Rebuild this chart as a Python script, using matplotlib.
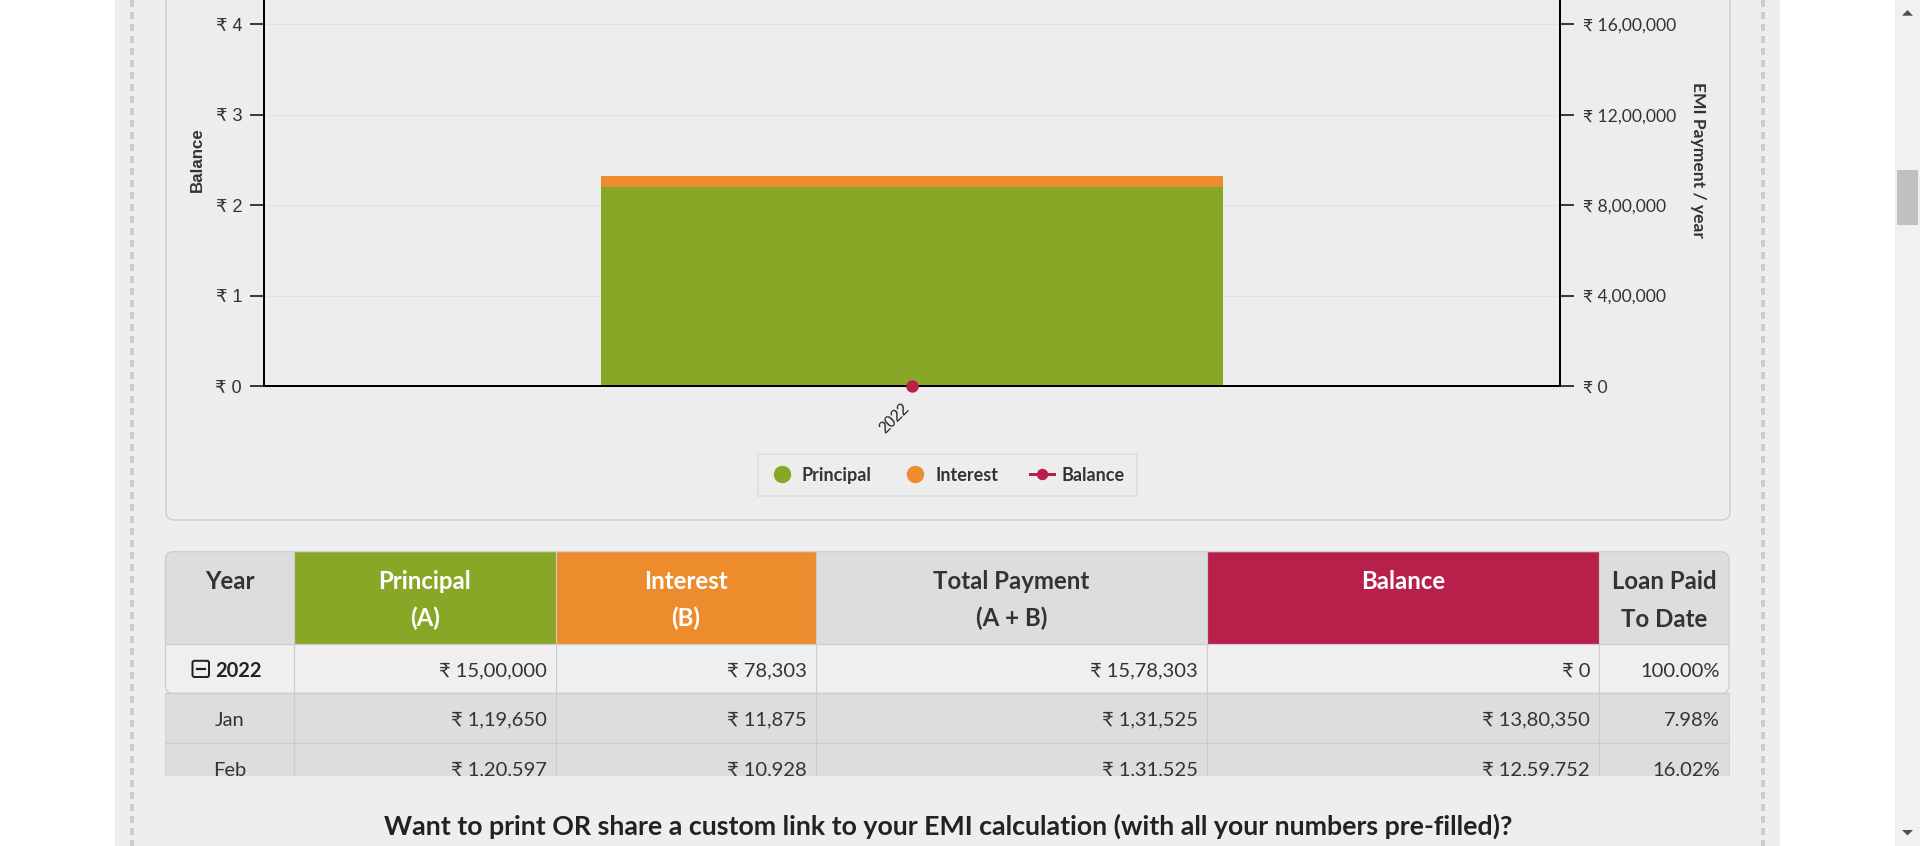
import matplotlib
matplotlib.use('Agg')
import matplotlib.pyplot as plt
from matplotlib.patches import Rectangle, FancyBboxPatch, Polygon
from matplotlib.lines import Line2D
from matplotlib.ticker import FuncFormatter

# chart data (bar heights)
years = ['2022']
principal_bar = [881000]
interest_bar = [47000]
balance_line = [0]
left_ticks = [0, 1, 2, 3, 4]
right_ticks = [0, 400000, 800000, 1200000, 1600000]

# amortisation table
row_labels = ['2022', 'Jan', 'Feb']
principal_col = [1500000, 119650, 120597]
interest_col = [78303, 11875, 10928]
total_col = [1578303, 131525, 131525]
balance_col = [0, 1380350, 1259752]
paid_col = [100.00, 7.98, 16.02]
headers = [['Year'], ['Principal', '(A)'], ['Interest', '(B)'],
           ['Total Payment', '(A + B)'], ['Balance'], ['Loan Paid', 'To Date']]

GREEN = '#89a727'
ORANGE = '#ed8c2d'
CRIMSON = '#b81f4a'
PAGE = '#eeeeee'
LATO = ['Lato', 'DejaVu Sans']
ARIAL = ['Liberation Sans', 'DejaVu Sans']

plt.rcParams['font.family'] = LATO
W, H = 1920, 846


def px(v):
    # pixels -> points at dpi 100
    return v * 0.72


def inr(v):
    s = str(int(round(v)))
    if len(s) > 3:
        head, tail = s[:-3], s[-3:]
        groups = []
        while len(head) > 2:
            groups.insert(0, head[-2:])
            head = head[:-2]
        if head:
            groups.insert(0, head)
        s = ','.join(groups + [tail])
    return '₹ ' + s


fig = plt.figure(figsize=(W / 100, H / 100), dpi=100, facecolor='white')

# page background
bg = fig.add_axes([0, 0, 1, 1])
bg.set_xlim(0, W)
bg.set_ylim(H, 0)
bg.axis('off')
bg.add_patch(Rectangle((115, 0), 1665, H, fc=PAGE, ec='none'))
for x in (132, 1763):
    bg.plot([x, x], [0, H], color='#cccccc', lw=px(4), dashes=(7 / 4, 5 / 4),
            solid_capstyle='butt', dash_capstyle='butt')
bg.add_patch(FancyBboxPatch((166, -60), 1564, 580,
                            boxstyle='round,pad=0,rounding_size=8',
                            fc='#ededed', ec='#cccccc', lw=px(1.3)))
# scrollbar
bg.add_patch(Rectangle((1895, 0), 25, H, fc='#f1f1f1', ec='none'))
bg.add_patch(Rectangle((1897, 170), 21, 55, fc='#c1c1c1', ec='none'))
bg.add_patch(Polygon([(1902, 15.7), (1913, 15.7), (1907.5, 10)], fc='#505050', ec='none'))
bg.add_patch(Polygon([(1902, 830), (1913, 830), (1907.5, 835.5)], fc='#505050', ec='none'))

bg.text(948, 835, 'Want to print OR share a custom link to your EMI calculation '
        '(with all your numbers pre-filled)?', ha='center', va='baseline',
        fontsize=19.3, fontweight='bold', color='#222222', family=LATO)

# chart
y0, top = 386, -70
unit = 90.4
ax = fig.add_axes([264 / W, (H - y0) / H, 1296 / W, (y0 - top) / H])
ax2 = ax.twinx()
x = list(range(len(years)))
ax2.bar(x, principal_bar, width=0.48, color=GREEN, zorder=2)
ax2.bar(x, interest_bar, width=0.48, bottom=principal_bar, color=ORANGE, zorder=2)
ax.plot(x, balance_line, color=CRIMSON, marker='o', ms=px(11), lw=px(2), clip_on=False, zorder=5)

ax.set_zorder(ax2.get_zorder() + 1)
ax.patch.set_visible(False)
ax2.patch.set_visible(False)
ax.set_xlim(-0.5, 0.5)
ymax = (y0 - top) / unit
ax.set_ylim(0, ymax)
ax2.set_ylim(0, ymax * 400000)

ax.set_xticks(x, years)
ax.set_yticks(left_ticks)
ax.yaxis.set_major_formatter(FuncFormatter(lambda v, p: '₹ %d' % v))
ax2.set_yticks(right_ticks)
ax2.yaxis.set_major_formatter(FuncFormatter(lambda v, p: inr(v)))

ax2.yaxis.grid(True, color='#e2e2e2', lw=px(1))
ax2.set_axisbelow(True)

for s in ('top', 'right'):
    ax.spines[s].set_visible(False)
for s in ('top', 'left', 'bottom'):
    ax2.spines[s].set_visible(False)
for sp in (ax.spines['left'], ax.spines['bottom'], ax2.spines['right']):
    sp.set_linewidth(px(2))
    sp.set_color('black')

ax.tick_params(axis='y', direction='out', length=px(14), width=px(1.5), color='black',
               pad=px(8), labelsize=13, labelcolor='#333333')
ax.tick_params(axis='x', length=0, pad=px(15), labelsize=11.5, labelrotation=45,
               labelcolor='#222222')
ax2.tick_params(axis='y', direction='out', length=px(14), width=px(1.5), color='black',
                pad=px(9), labelsize=12.6, labelcolor='#333333')
for lbl in ax.get_yticklabels() + ax.get_xticklabels():
    lbl.set_fontfamily(ARIAL)
for lbl in ax.get_xticklabels():
    lbl.set_ha('right')
    lbl.set_va('top')
for lbl in ax2.get_yticklabels():
    lbl.set_fontfamily(LATO)

ax.set_ylabel('Balance', fontsize=12.2, fontweight='bold', color='#333333',
              family=ARIAL, va='center')
ax.yaxis.set_label_coords((197 - 264) / 1296, (y0 - 160) / (y0 - top))
ax2.set_ylabel('EMI Payment / year', fontsize=12.6, fontweight='bold', color='#333333',
               family=LATO, rotation=270, va='center')
ax2.yaxis.set_label_coords((1698 - 264) / 1296, (y0 - 160) / (y0 - top))

handles = [Line2D([], [], ls='none', marker='o', ms=px(16), color=GREEN),
           Line2D([], [], ls='none', marker='o', ms=px(16), color=ORANGE),
           Line2D([], [], color=CRIMSON, lw=px(3), marker='o', ms=px(10))]
leg = fig.legend(handles, ['Principal', 'Interest', 'Balance'], loc='center',
                 bbox_to_anchor=(947.4 / W, 1 - 475 / H), ncol=3, frameon=True,
                 fancybox=False, edgecolor='#dcdcdc', facecolor='#ededed',
                 prop={'family': LATO, 'weight': 'bold', 'size': 13},
                 labelcolor='#333333', handlelength=1.33, handletextpad=0.44,
                 columnspacing=1.75, borderpad=0.68, borderaxespad=0)
leg.get_frame().set_linewidth(px(2))

# table
clip_bottom = 775.7
tab = fig.add_axes([0, (H - clip_bottom) / H, 1, (clip_bottom - 540) / H])
tab.set_xlim(0, W)
tab.set_ylim(clip_bottom, 540)
tab.axis('off')

edges = [165.4, 294, 555.5, 816, 1207, 1599, 1729]
head_top, head_bot = 551.7, 644.3
row_h = [644.3, 693.3, 743.3, 793.3]
head_fill = ['#dddddd', GREEN, ORANGE, '#dddddd', CRIMSON, '#dddddd']
head_txt = ['#333333', 'white', 'white', '#333333', 'white', '#333333']

block = FancyBboxPatch((edges[0], head_top), edges[-1] - edges[0], row_h[1] - head_top,
                       boxstyle='round,pad=0,rounding_size=8', fc='#efefef', ec='none')
tab.add_patch(block)
for i in range(6):
    r = Rectangle((edges[i], head_top), edges[i + 1] - edges[i], head_bot - head_top,
                  fc=head_fill[i], ec='none')
    tab.add_patch(r)
    r.set_clip_path(block)
    for j, line in enumerate(headers[i]):
        tab.text((edges[i] + edges[i + 1]) / 2, 588.5 + 38 * j, line, ha='center',
                 va='baseline', fontsize=17.3, fontweight='bold', color=head_txt[i],
                 family=LATO, clip_on=True)
tab.add_patch(FancyBboxPatch((edges[0], head_top), edges[-1] - edges[0], row_h[1] - head_top,
                             boxstyle='round,pad=0,rounding_size=8', fc='none',
                             ec='#cccccc', lw=px(1.2)))
tab.add_patch(Rectangle((edges[0], row_h[1]), edges[-1] - edges[0], row_h[3] - row_h[1],
                        fc='#dddddd', ec='none'))
for yy in row_h[:3]:
    tab.plot([edges[0], edges[-1]], [yy, yy], color='#cccccc', lw=px(1.2))
for xx in edges[1:-1]:
    tab.plot([xx, xx], [head_top, row_h[3]], color='#cccccc', lw=px(1.2))
for xx in (edges[0], edges[-1]):
    tab.plot([xx, xx], [row_h[1], row_h[3]], color='#d2d2d2', lw=px(1))

for r in range(len(row_labels)):
    base = row_h[r] + 32.3
    vals = [inr(principal_col[r]), inr(interest_col[r]), inr(total_col[r]),
            inr(balance_col[r]), '%.2f%%' % paid_col[r]]
    for c, v in enumerate(vals):
        tab.text(edges[c + 2] - 9, base, v, ha='right', va='baseline', fontsize=14.5,
                 color='#333333', family=LATO, clip_on=True)
    if r == 0:
        tab.add_patch(FancyBboxPatch((192.5, 660.8), 16.5, 16.2,
                                     boxstyle='round,pad=0,rounding_size=2',
                                     fc='none', ec='#222222', lw=px(2)))
        tab.plot([196.5, 205], [668.9, 668.9], color='#222222', lw=px(2.2))
        tab.text(215, base, row_labels[r], ha='left', va='baseline', fontsize=14.5,
                 fontweight='bold', color='#222222', family=LATO, clip_on=True)
    else:
        tab.text((edges[0] + edges[1]) / 2, base, row_labels[r], ha='center',
                 va='baseline', fontsize=14.5, color='#333333', family=LATO, clip_on=True)

fig.savefig('out.png', dpi=100, facecolor='white')
